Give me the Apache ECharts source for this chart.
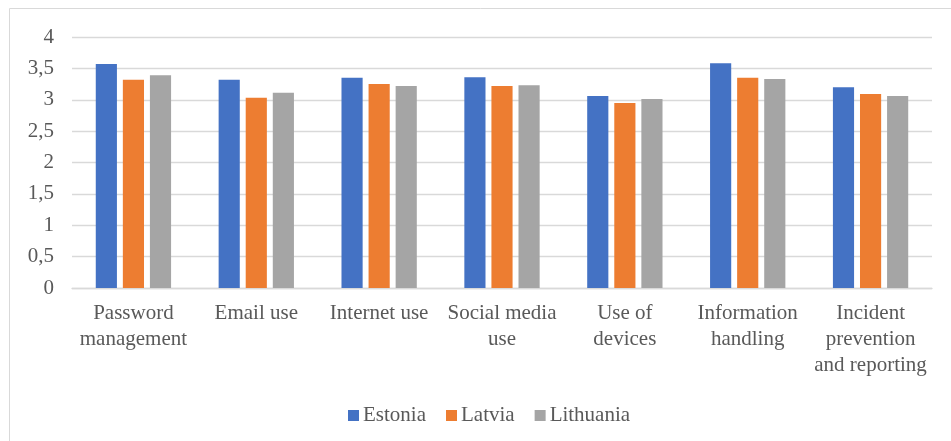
<!DOCTYPE html>
<html>
<head>
<meta charset="utf-8">
<script src="https://cdn.jsdelivr.net/npm/echarts@6/dist/echarts.min.js"></script>
<style>
html,body{margin:0;padding:0;background:#fff;}
#chart{width:951px;height:441px;}
</style>
</head>
<body>
<div id="chart"></div>
<script>
const categories = ["Password\nmanagement", "Email use", "Internet use", "Social media\nuse", "Use of\ndevices", "Information\nhandling", "Incident\nprevention\nand reporting"];
const seriesNames = ["Estonia", "Latvia", "Lithuania"];
const estonia = [3.57, 3.32, 3.35, 3.36, 3.06, 3.58, 3.20];
const latvia = [3.32, 3.03, 3.25, 3.22, 2.95, 3.35, 3.09];
const lithuania = [3.39, 3.11, 3.22, 3.23, 3.01, 3.33, 3.06];
const yTicks = [0, 0.5, 1, 1.5, 2, 2.5, 3, 3.5, 4];

const colors = ["#4472C4", "#ED7D31", "#A5A5A5"];
const font = "Liberation Serif";
const chart = echarts.init(document.getElementById('chart'));
const values = [estonia, latvia, lithuania];
chart.setOption({
  animation: false,
  textStyle: { fontFamily: font },
  graphic: [{
    type: 'rect', shape: { x: 9.5, y: 8.5, width: 1200, height: 1200 },
    style: { fill: 'none', stroke: '#D9D9D9', lineWidth: 1 }, z: -1
  }],
  grid: { left: 72, right: 19, top: 37, bottom: 153, containLabel: false },
  legend: {
    data: seriesNames, left: 343, top: 400, itemWidth: 11, itemHeight: 11, itemGap: 20,
    icon: 'rect',
    textStyle: { fontFamily: font, fontSize: 21, color: '#595959', padding: [0, 0, 0, -1] }
  },
  xAxis: {
    type: 'category', data: categories,
    axisLine: { lineStyle: { color: '#D9D9D9', width: 1.3 } },
    axisTick: { show: false },
    axisLabel: { fontFamily: font, fontSize: 21, color: '#595959', lineHeight: 26, margin: 12, interval: 0 }
  },
  yAxis: {
    type: 'value', min: 0, max: 4, interval: 0.5,
    axisLine: { show: false }, axisTick: { show: false },
    splitLine: { lineStyle: { color: '#D9D9D9', width: 1.3 } },
    axisLabel: {
      fontFamily: font, fontSize: 21, color: '#595959', margin: 18,
      formatter: v => (yTicks.includes(v) ? String(v).replace('.', ',') : '')
    }
  },
  series: seriesNames.map((n, i) => ({
    name: n, type: 'bar', data: values[i],
    barGap: '28%', barCategoryGap: '38.7%',
    itemStyle: { color: colors[i] }
  }))
});
</script>
</body>
</html>
